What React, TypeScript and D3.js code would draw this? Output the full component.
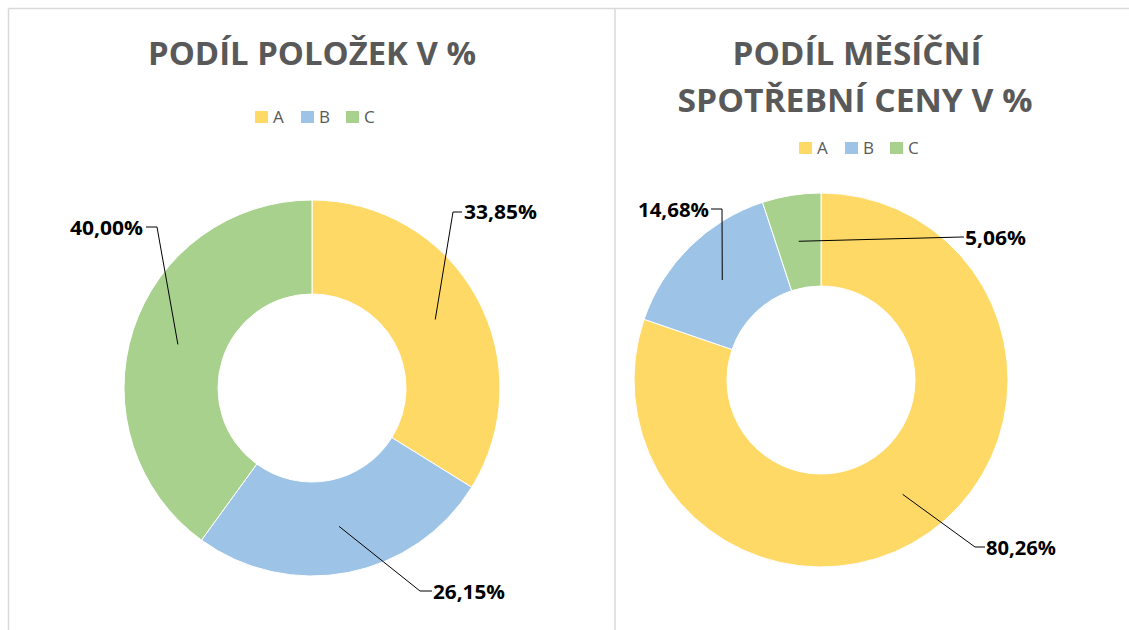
import React from "react";
import * as d3 from "d3";

const categories = ["A", "B", "C"];
const colors = ["#FFD966", "#9DC3E6", "#A9D18E"];
const itemShare = [33.85, 26.15, 40.0];
const priceShare = [80.26, 14.68, 5.06];
const leftTitle = ["PODÍL POLOŽEK V %"];
const rightTitle = ["PODÍL MĚSÍČNÍ", "SPOTŘEBNÍ CENY V %"];

type LabelLayout = { ex: number; ey: number; side: "l" | "r"; tx: number; by: number; tl: number; hl: number };

// label layout (elbow positions relative to the donut centre)
const leftLabels: LabelLayout[] = [
  { ex: 141, ey: -176, side: "r", tx: 152, by: -169, tl: 73, hl: 9 },
  { ex: 108, ey: 203, side: "r", tx: 121, by: 211, tl: 72, hl: 12 },
  { ex: -155, ey: -161, side: "l", tx: -169, by: -153, tl: 73, hl: 11 },
];
const rightLabels: LabelLayout[] = [
  { ex: 154, ey: 167, side: "r", tx: 165, by: 175, tl: 70, hl: 10 },
  { ex: -99, ey: -171, side: "l", tx: -112, by: -163, tl: 71, hl: 11 },
  { ex: 141, ey: -143, side: "r", tx: 144, by: -135, tl: 61, hl: 2 },
];

const fmt = (v: number) => v.toFixed(2).replace(".", ",") + "%";

function Donut({ cx, cy, r, ri, values, labels }: { cx: number; cy: number; r: number; ri: number; values: number[]; labels: LabelLayout[] }) {
  const pie = d3.pie<number>().sort(null).value((d) => d);
  const arcs = pie(values);
  const arc = d3.arc<d3.PieArcDatum<number>>().innerRadius(ri).outerRadius(r);
  return (
    <g transform={`translate(${cx},${cy})`}>
      {arcs.map((a, i) => (
        <path key={i} d={arc(a) || ""} fill={colors[i]} stroke="#fff" strokeWidth={1} />
      ))}
      {arcs.map((a, i) => {
        const [x0, y0] = arc.centroid(a);
        const L = labels[i];
        const hx = L.side === "r" ? L.ex + L.hl : L.ex - L.hl;
        return (
          <g key={"l" + i}>
            <polyline points={`${x0},${y0} ${L.ex},${L.ey} ${hx},${L.ey}`} fill="none" stroke="#000" strokeWidth={1} />
            <text
              x={L.tx}
              y={L.by}
              textAnchor={L.side === "r" ? "start" : "end"}
              fontFamily="'Open Sans', sans-serif"
              fontWeight={700}
              fontSize={19.5}
              fill="#000"
              textLength={L.tl}
              lengthAdjust="spacingAndGlyphs"
            >
              {fmt(values[i])}
            </text>
          </g>
        );
      })}
    </g>
  );
}

function Legend({ x, y }: { x: number; y: number }) {
  const step = [0, 46, 91];
  return (
    <g transform={`translate(${x},${y})`}>
      {categories.map((c, i) => (
        <g key={c} transform={`translate(${step[i]},0)`}>
          <rect x={0} y={-12} width={13} height={12} fill={colors[i]} />
          <text x={18} y={0} fontFamily="'Open Sans', sans-serif" fontSize={17} fill="#595959">
            {c}
          </text>
        </g>
      ))}
    </g>
  );
}

export default function App() {
  return (
    <svg width={1129} height={630} style={{ position: "absolute", left: 0, top: 0, background: "#fff" }}>
      <rect x={0} y={0} width={1129} height={630} fill="#fff" />
      <line x1={8.5} y1={8.5} x2={1129} y2={8.5} stroke="#d9d9d9" strokeWidth={1.5} />
      <line x1={8.5} y1={8.5} x2={8.5} y2={630} stroke="#d9d9d9" strokeWidth={1.5} />
      <line x1={615} y1={8.5} x2={615} y2={630} stroke="#d9d9d9" strokeWidth={1.5} />

      <text x={312} y={65} textAnchor="middle" fontFamily="'Open Sans', sans-serif" fontWeight={700} fontSize={32} fill="#595959" textLength={328} lengthAdjust="spacingAndGlyphs">
        {leftTitle[0]}
      </text>
      <text x={857} y={65} textAnchor="middle" fontFamily="'Open Sans', sans-serif" fontWeight={700} fontSize={32} fill="#595959" textLength={249} lengthAdjust="spacingAndGlyphs">
        {rightTitle[0]}
      </text>
      <text x={855} y={112} textAnchor="middle" fontFamily="'Open Sans', sans-serif" fontWeight={700} fontSize={32} fill="#595959" textLength={355} lengthAdjust="spacingAndGlyphs">
        {rightTitle[1]}
      </text>

      <Legend x={255} y={123} />
      <Legend x={799} y={154} />

      <Donut cx={312} cy={388} r={188} ri={94} values={itemShare} labels={leftLabels} />
      <Donut cx={821} cy={380} r={187} ri={94} values={priceShare} labels={rightLabels} />
    </svg>
  );
}
